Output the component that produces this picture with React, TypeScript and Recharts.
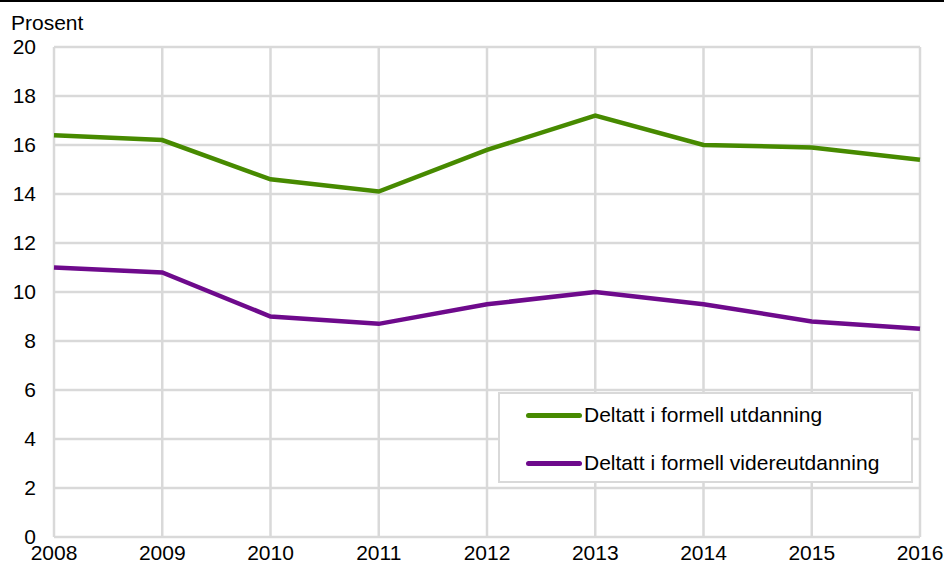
import React from 'react';
import { LineChart, Line, XAxis, YAxis, CartesianGrid } from 'recharts';

const years = ['2008', '2009', '2010', '2011', '2012', '2013', '2014', '2015', '2016'];
const formellUtdanning = [16.4, 16.2, 14.6, 14.1, 15.8, 17.2, 16.0, 15.9, 15.4];
const formellVidereutdanning = [11.0, 10.8, 9.0, 8.7, 9.5, 10.0, 9.5, 8.8, 8.5];
const yTicks = [0, 2, 4, 6, 8, 10, 12, 14, 16, 18, 20];

const series = [
  { key: 'utdanning', name: 'Deltatt i formell utdanning', color: '#478a00' },
  { key: 'videre', name: 'Deltatt i formell videreutdanning', color: '#6e0a8c' },
];

const data = years.map((year, i) => ({
  year,
  utdanning: formellUtdanning[i],
  videre: formellVidereutdanning[i],
}));

const FONT = '"Liberation Sans", Arial, sans-serif';

// legend drawn as a box over the plot, like the original
const LegendBox = () => (
  <div
    style={{
      position: 'absolute',
      left: 498,
      top: 392,
      width: 411,
      height: 87,
      border: '2px solid #d9d9d9',
      background: '#fff',
      fontFamily: FONT,
      fontSize: 21,
      color: '#000',
    }}
  >
    {series.map((s, i) => (
      <div
        key={s.key}
        style={{ position: 'absolute', left: 26, top: 8 + i * 48, display: 'flex', alignItems: 'center', height: 26 }}
      >
        <div style={{ width: 56, height: 5, borderRadius: 2.5, background: s.color, marginRight: 2 }} />
        <span>{s.name}</span>
      </div>
    ))}
  </div>
);

export default function App() {
  return (
    <div style={{ position: 'fixed', left: 0, top: 0, width: 944, height: 563, background: '#fff' }}>
      <LineChart width={944} height={563} data={data} margin={{ top: 47, right: 24, bottom: 0, left: 0 }}>
        <CartesianGrid stroke="#d9d9d9" strokeWidth={2.5} />
        <XAxis
          dataKey="year"
          axisLine={false}
          tickLine={false}
          tickMargin={2}
          interval={0}
          tick={{ fill: '#000', fontSize: 21, fontFamily: FONT }}
          height={26}
        />
        <YAxis
          domain={[0, 20]}
          ticks={yTicks}
          width={54}
          axisLine={false}
          tickLine={false}
          tickMargin={18}
          tickSize={0}
          tick={{ fill: '#000', fontSize: 21, fontFamily: FONT }}
        />
        {series.map((s) => (
          <Line
            key={s.key}
            dataKey={s.key}
            name={s.name}
            stroke={s.color}
            strokeWidth={4.5}
            dot={false}
            isAnimationActive={false}
          />
        ))}
      </LineChart>
      <div style={{ position: 'absolute', left: 0, top: 0, width: 944, height: 2, background: '#000' }} />
      <div style={{ position: 'absolute', left: 11, top: 11, fontFamily: FONT, fontSize: 21, color: '#000' }}>
        Prosent
      </div>
      <LegendBox />
    </div>
  );
}
